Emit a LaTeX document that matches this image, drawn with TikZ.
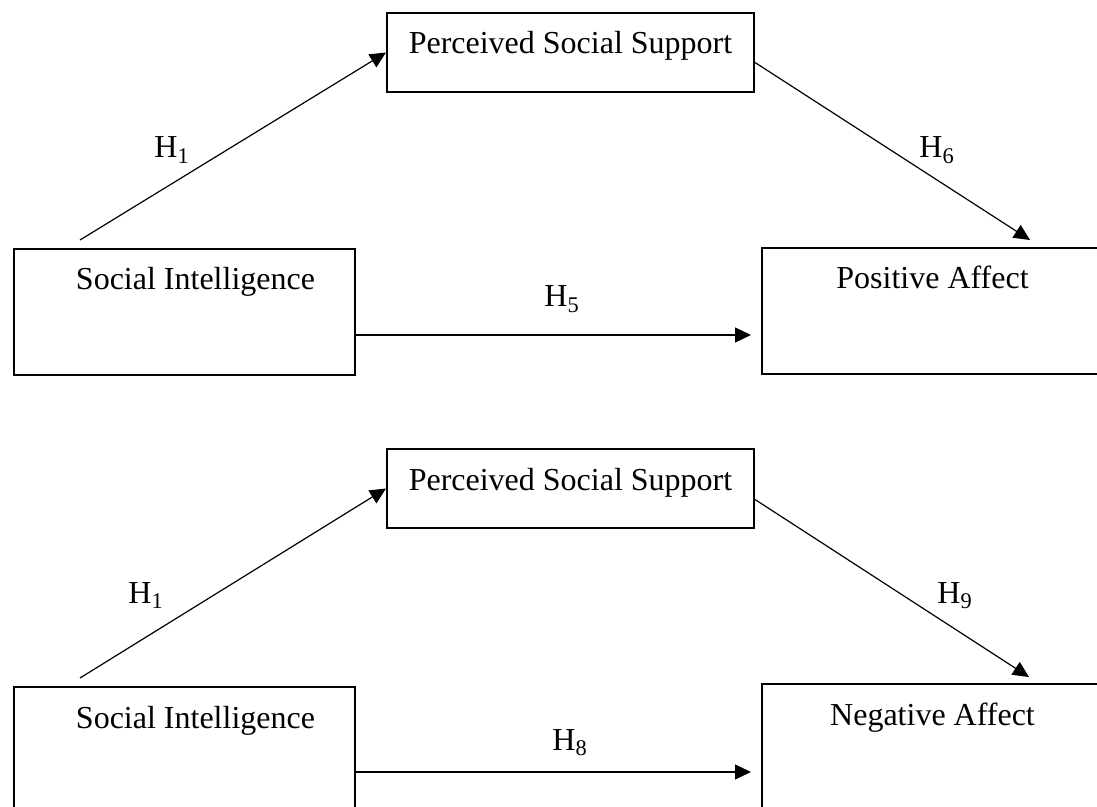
\documentclass[tikz,border=0pt]{standalone}
\usepackage{fontspec}
\setmainfont{Liberation Serif}
\usetikzlibrary{arrows.meta,calc}

\begin{document}
\begin{tikzpicture}[x=0.5pt, y=-0.5pt,
  box/.style={draw, line width=1pt, inner sep=0pt, anchor=north west, font=\fontsize{16}{19}\selectfont, text height=20.5pt},
  bigbox/.style={box, minimum width=170.5pt, text depth=42.5pt},
  medbox/.style={box, minimum width=183.5pt, text depth=19pt},
  hlab/.style={anchor=base west, inner sep=0pt, font=\fontsize{16}{19}\selectfont},
  arr/.style={-{Triangle[length=8pt, width=7.5pt]}, line width=0.6pt}]
\useasboundingbox (0,0) rectangle (1097,807);
\fill[white] (0,0) rectangle (1097,807);
\clip (0,0) rectangle (1097,807);
% positive affect model
\node[medbox] (pss1) at (386,12) {Perceived Social Support};
\node[bigbox] (si1) at (13,248) {\hspace*{11pt}Social Intelligence};
\node[bigbox] (pa1) at (761,247) {Positive Affect};
\node[hlab] (h1a) at (154,158) {H\textsubscript{1}};
\node[hlab] (h6) at (919,158) {H\textsubscript{6}};
\node[hlab] (h5) at (544,307) {H\textsubscript{5}};
\draw[arr] ($(si1.north west)+(67,-8)$) -- (pss1.west);
\draw[arr] ($(pss1.east)+(0,10)$) -- ($(pa1.north west)+(269,-7)$);
\coordinate (h5s) at ($(si1.east)+(0,23)$);
\draw[arr, shorten >=5pt] (h5s) -- (h5s -| pa1.west);
% negative affect model
\node[medbox] (pss2) at (386,448) {Perceived Social Support};
\node[bigbox] (si2) at (13,686) {\hspace*{11pt}Social Intelligence};
\node[bigbox] (na2) at (761,683) {Negative Affect};
\node[hlab] (h1b) at (128,603) {H\textsubscript{1}};
\node[hlab] (h9) at (937,603) {H\textsubscript{9}};
\node[hlab] (h8) at (552,750) {H\textsubscript{8}};
\draw[arr] ($(si2.north west)+(67,-8)$) -- (pss2.west);
\draw[arr] ($(pss2.east)+(0,11)$) -- ($(na2.north west)+(268,-6)$);
\coordinate (h8s) at ($(si2.east)+(0,22)$);
\draw[arr, shorten >=5pt] (h8s) -- (h8s -| na2.west);
\end{tikzpicture}
\end{document}
